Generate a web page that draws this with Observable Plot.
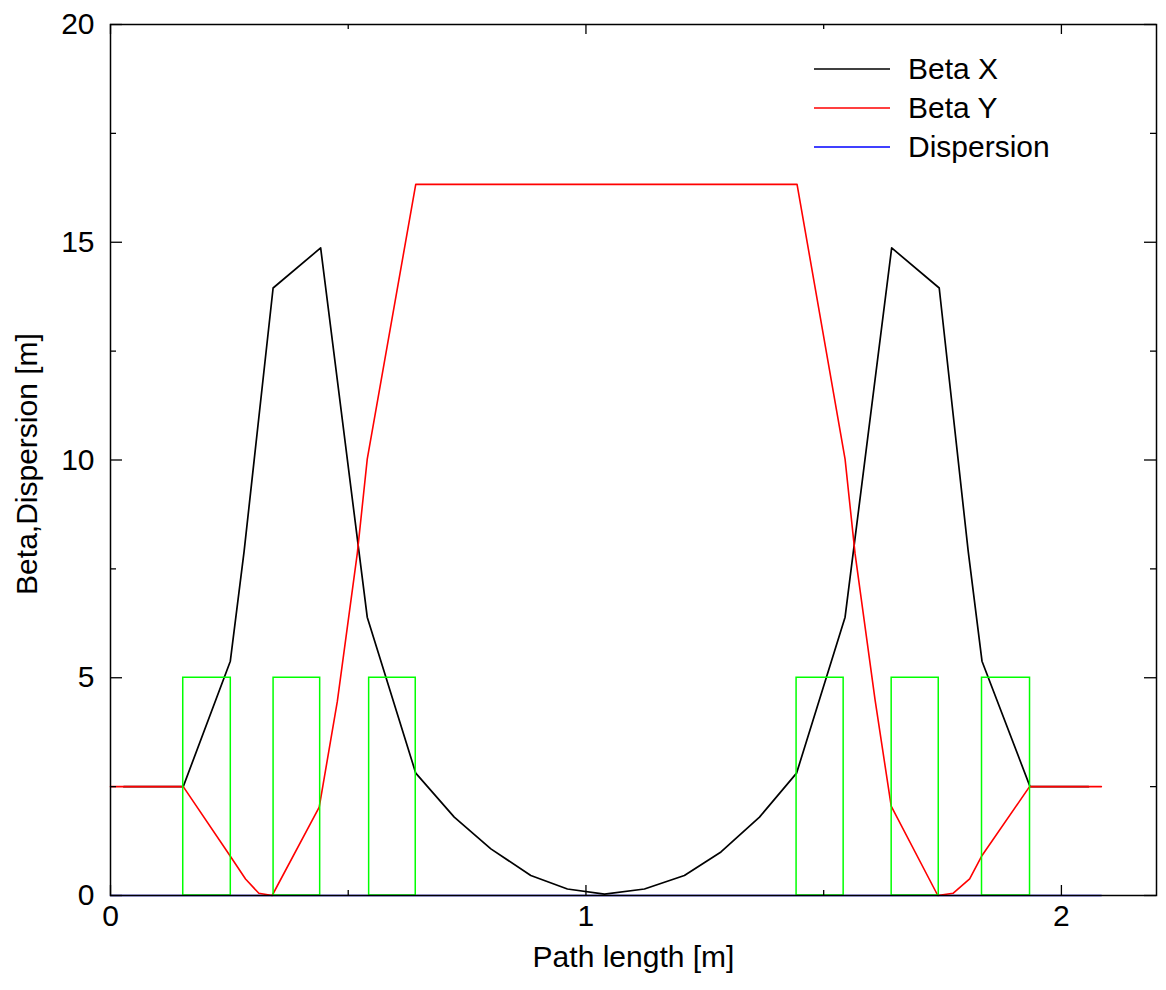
<!DOCTYPE html>
<html><head><meta charset="utf-8">
<script src="https://cdn.jsdelivr.net/npm/d3@7"></script>
<script src="https://cdn.jsdelivr.net/npm/@observablehq/plot@0.6"></script>
<style>
body{margin:0;background:#fff;}
#wrap{position:relative;width:1166px;height:990px;font-family:"Liberation Sans",Arial,sans-serif;}
#legend{position:absolute;left:814px;top:49px;font-size:30px;color:#000;}
.row{display:flex;align-items:center;height:39px;}
.row svg{width:76px;height:4px;margin-right:18px;}
</style></head><body><div id="wrap"><div id="legend"></div></div>
<script>
// Beta X
const betaXS = [0.028, 0.153, 0.252, 0.281, 0.342, 0.442, 0.540, 0.642, 0.723, 0.800, 0.884, 0.961, 1.039, 1.123, 1.207, 1.284, 1.365, 1.443, 1.545, 1.643, 1.743, 1.804, 1.833, 1.934, 2.057];
const betaXV = [2.5, 2.5, 5.38, 7.9, 13.95, 14.87, 6.39, 2.81, 1.8, 1.07, 0.46, 0.15, 0.03, 0.15, 0.46, 1.0, 1.8, 2.81, 6.39, 14.87, 13.95, 7.9, 5.38, 2.5, 2.5];
// Beta Y
const betaYS = [0, 0.153, 0.251, 0.284, 0.312, 0.340, 0.439, 0.477, 0.519, 0.540, 0.642, 1.444, 1.545, 1.566, 1.608, 1.642, 1.740, 1.772, 1.807, 1.832, 1.933, 2.084];
const betaYV = [2.5, 2.5, 0.92, 0.38, 0.05, 0.0, 2.03, 4.45, 7.85, 10.02, 16.33, 16.33, 10.02, 7.85, 4.5, 2.05, 0.0, 0.05, 0.38, 0.9, 2.5, 2.5];
// Dispersion
const dispS = [0, 2.084];
const dispV = [0, 0];
// Magnets (elements)
const magnetStart = [0.153, 0.343, 0.544, 1.443, 1.643, 1.833];
const magnetEnd   = [0.253, 0.441, 0.642, 1.542, 1.742, 1.934];
const magnetHeight = 5;
// Ticks
const xMajor = [0, 1, 2];
const xMinor = [0.5, 1.5];
const yMajor = [0, 5, 10, 15, 20];
const yMinor = [2.5, 7.5, 12.5, 17.5];
const legendLabels = ["Beta X", "Beta Y", "Dispersion"];
const legendColors = ["#000000", "#ff0000", "#0000ff"];

const betaX = betaXS.map((s, i) => ({s, v: betaXV[i]}));
const betaY = betaYS.map((s, i) => ({s, v: betaYV[i]}));
const disp = dispS.map((s, i) => ({s, v: dispV[i]}));
const magnets = magnetStart.map((a, i) => ({a, b: magnetEnd[i], h: magnetHeight}));

const W = 1166, H = 990, mL = 110, mR = 10, mT = 24, mB = 95;
const pw = W - mL - mR, ph = H - mT - mB;
const font = "'Liberation Sans', Arial, sans-serif";

const chart = Plot.plot({
  width: W, height: H,
  marginLeft: mL, marginRight: mR, marginTop: mT, marginBottom: mB,
  x: {domain: [0, 2.2]},
  y: {domain: [0, 20]},
  style: {fontFamily: font, fontSize: "30px", color: "#000", background: "#fff"},
  marks: [
    Plot.line(disp, {x: "s", y: "v", stroke: "#0000ff", strokeWidth: 1.5}),
    Plot.line(betaX, {x: "s", y: "v", stroke: "#000", strokeWidth: 1.7}),
    Plot.line(betaY, {x: "s", y: "v", stroke: "#ff0000", strokeWidth: 1.6}),
    Plot.rect(magnets, {x1: "a", x2: "b", y1: 0, y2: "h", fill: "none", stroke: "#00ff00", strokeWidth: 1.5}),
    Plot.frame({stroke: "#000", strokeWidth: 1.5}),
    Plot.tickX(xMajor, {x: d => d, insetTop: ph - 10, stroke: "#000", strokeWidth: 1.3}),
    Plot.tickX(xMajor, {x: d => d, insetBottom: ph - 10, stroke: "#000", strokeWidth: 1.3}),
    Plot.tickX(xMinor, {x: d => d, insetTop: ph - 5, stroke: "#000", strokeWidth: 1.3}),
    Plot.tickX(xMinor, {x: d => d, insetBottom: ph - 5, stroke: "#000", strokeWidth: 1.3}),
    Plot.tickY(yMajor, {y: d => d, insetRight: pw - 12, stroke: "#000", strokeWidth: 1.3}),
    Plot.tickY(yMajor, {y: d => d, insetLeft: pw - 12, stroke: "#000", strokeWidth: 1.3}),
    Plot.tickY(yMinor, {y: d => d, insetRight: pw - 6, stroke: "#000", strokeWidth: 1.3}),
    Plot.tickY(yMinor, {y: d => d, insetLeft: pw - 6, stroke: "#000", strokeWidth: 1.3}),
    Plot.axisX({ticks: xMajor, tickSize: 0, tickPadding: 9, tickFormat: d => String(d), label: null, fontSize: 30, fill: "#000"}),
    Plot.axisY({ticks: yMajor, tickSize: 0, tickPadding: 16, tickFormat: d => String(d), label: null, fontSize: 30, fill: "#000"}),
    Plot.text(["Path length [m]"], {text: d => d, frameAnchor: "bottom", dy: 71, fontSize: 30, fill: "#000"}),
    Plot.text(["Beta,Dispersion [m]"], {text: d => d, frameAnchor: "left", textAnchor: "middle", dx: -83, dy: 4, rotate: -90, fontSize: 30, fill: "#000"})
  ]
});
const wrap = document.getElementById("wrap");
wrap.insertBefore(chart, wrap.firstChild);

const legend = document.getElementById("legend");
legendLabels.forEach((lab, i) => {
  const row = document.createElement("div");
  row.className = "row";
  row.innerHTML = `<svg viewBox="0 0 76 4"><line x1="0" y1="2" x2="76" y2="2" stroke="${legendColors[i]}" stroke-width="1.6"/></svg><span>${lab}</span>`;
  legend.appendChild(row);
});
</script>
</body></html>
